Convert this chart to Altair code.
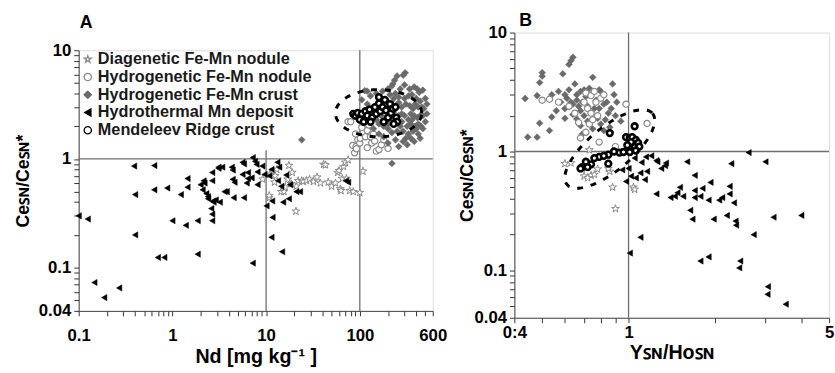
import altair as alt
import pandas as pd
import numpy as np

SERIES = ["Diagenetic Fe-Mn nodule", "Hydrogenetic Fe-Mn nodule",
          "Hydrogenetic Fe-Mn crust", "Hydrothermal Mn deposit",
          "Mendeleev Ridge crust"]
PANEL_TITLES = ["A", "B"]

# ---------------- Panel A: Nd [mg/kg] vs Ce_SN/Ce_SN* ----------------
A_DIAG = [(9.2,0.65),(10.8,0.44),(10.8,0.46),(12.3,0.61),(12.5,0.7),(14.5,0.5),(15.5,0.5),
          (16,0.55),(17,0.65),(17.5,0.87),(18.5,0.59),(20.8,0.33),(21,0.56),(22,0.63),(24,0.63),
          (25,0.62),(27,0.63),(29,0.65),(32,0.62),(35,0.68),(38,0.6),(41,0.89),(43,0.88),(46,0.61),
          (50,0.56),(55,0.6),(58,0.75),(60,0.78),(62,0.53),(63,0.51),(65,0.66),(67,0.85),(70,0.93),
          (72,0.66),(75,0.98),(78,0.51),(85,0.5),(100,0.49),(108,0.77),(19,0.75),(13,0.8),(11,0.72)]
A_HNOD = [(75,2.2),(80,2.2),(84,1.33),(88,1.14),(91,1.3),(92,1.24),(95,1.5),(100,1.4),(101,1.55),
          (110,1.77),(115,1.6),(120,1.83),(120,1.27),(130,1.6),(134,1.4),(144,1.46),(150,1.18),
          (160,1.22),(105,1.95),(140,1.7),(170,1.35),(125,2.05),(90,1.7),(180,1.5),(200,1.25)]
A_HCRU = [(305,6.2),(290,5.9),(250,5.8),(235,5.3),(220,4.7),(225,4.9),(410,4.4),(380,4.6),(430,4.1),
          (470,4.3),(500,3.6),(520,3.2),(480,2.9),(520,2.6),(500,2.2),(470,1.9),(440,1.55),(420,1.7),
          (380,1.45),(350,1.55),(320,1.35),(290,1.45),(260,1.3),(240,1.5),(200,1.4),(180,1.6),(160,1.7),
          (140,1.9),(120,4.2),(113,4.25),(130,3.8),(150,4.0),(175,4.2),(200,4.4),(270,4.4),(300,4.8),
          (340,4.4),(360,3.9),(330,3.8),(300,3.6),(260,3.7),(240,4.0),(190,3.5),(210,3.9),(400,3.6),
          (440,3.4),(460,3.0),(420,3.0),(390,3.2),(370,2.9),(340,3.1),(310,3.2),(280,3.0),(260,3.3),
          (230,3.6),(350,2.6),(380,2.5),(410,2.4),(440,2.5),(470,2.5),(330,2.3),(300,2.5),(280,2.6),
          (260,2.5),(240,2.2),(220,2.3),(200,2.1),(180,2.0),(160,2.1),(150,2.3),(320,2.0),(350,2.1),
          (390,2.0),(420,2.1),(450,2.0),(270,2.0),(250,1.8),(290,1.8),(330,1.7),(370,1.8),(400,1.9),
          (220,1.75),(200,1.9),(310,1.55),(280,2.2),(360,2.3),(230,2.7),(210,2.6),(170,2.5),(140,2.6),
          (120,3.2),(105,3.5),(24,1.5),(220,0.91)]
A_HYDT = [(0.1,0.3),(0.125,0.28),(0.147,0.073),(0.187,0.053),(0.27,0.065),(0.39,0.86),(0.4,0.47),
          (0.4,0.2),(0.64,0.87),(0.64,0.52),(0.7,0.124),(0.82,0.124),(0.88,0.54),(1.0,0.27),(1.23,0.47),
          (1.39,0.245),(1.45,0.66),(1.45,0.55),(1.86,0.27),(1.86,0.133),(2.1,0.52),(2.15,0.63),(2.2,0.6),
          (2.3,0.48),(2.4,0.43),(2.6,0.35),(2.66,0.75),(2.66,0.63),(2.66,0.31),(2.66,0.27),(2.7,0.41),
          (2.75,0.4),(3.1,0.84),(3.1,0.82),(3.2,0.4),(3.4,0.84),(3.6,0.5),(3.8,0.5),(4.3,0.84),(4.4,0.79),
          (4.4,0.65),(4.5,0.44),(4.6,0.61),(5.6,0.72),(5.6,0.93),(5.8,0.9),(5.8,0.44),(6.2,0.6),(6.4,0.66),
          (6.4,0.75),(7.0,0.67),(7.2,1.03),(7.2,0.11),(7.6,0.95),(7.9,0.89),(8.1,0.76),(8.1,0.58),
          (9.1,0.86),(9.6,0.72),(10.1,0.37),(10.8,0.7),(11.4,0.8),(11.4,0.19),(11.7,0.29),(11.6,0.41),
          (13.2,0.93),(13.4,0.63),(13.8,0.84),(14.5,0.56),(14.8,0.14),(15.2,0.4),(16.4,0.71),(17.5,0.43),
          (18,0.58),(21,0.5),(23,0.5),(71,0.63),(75,0.61),(2.4,0.45),(2.9,0.42),(2.0,0.58)]
A_MEND = [(85,2.6),(90,2.5),(95,2.65),(100,2.3),(105,2.6),(110,2.2),(115,2.75),(120,2.5),(127,2.85),
          (135,2.4),(145,3.0),(150,2.6),(160,3.25),(165,2.75),(175,3.0),(185,3.5),(190,2.8),(200,2.4),
          (210,3.2),(215,2.65),(225,2.9),(240,3.0),(245,2.4),(250,2.2),(160,3.7),(180,2.2),(230,2.1),
          (130,2.2)]

# ---------------- Panel B: Y_SN/Ho_SN vs Ce_SN/Ce_SN* ----------------
B_DIAG = [(0.63,0.8),(0.7,0.62),(0.74,0.63),(0.72,0.6),(0.86,0.68),(0.88,0.5),(1.04,0.5),(0.9,0.33),
          (0.73,1.03),(0.6,0.79),(0.76,0.64),(0.69,0.72),(0.85,0.72),(1.05,0.48),(0.78,0.71)]
B_HNOD = [(0.5,2.7),(0.57,2.6),(0.53,2.75),(0.71,3.1),(0.74,2.95),(0.76,3.2),(0.72,2.3),(0.74,2.1),
          (0.73,1.7),(0.71,1.45),(0.68,1.3),(0.98,2.5),(1.16,1.72),(0.9,1.1),(0.67,1.75),(0.78,2.0),
          (0.77,2.6),(0.8,2.8),(0.7,2.6),(0.75,1.85),(0.65,2.1),(0.79,1.2),(0.82,3.0),(0.62,2.4)]
B_HCRU = [(0.436,2.79),(0.445,1.32),(0.48,1.32),(0.48,2.95),(0.49,1.73),(0.5,4.6),(0.5,4.3),(0.49,3.8),
          (0.53,1.5),(0.54,3.0),(0.54,1.95),(0.59,4.5),(0.6,3.0),(0.63,5.8),(0.64,6.2),(0.62,5.4),
          (0.61,2.8),(0.63,2.6),(0.65,3.7),(0.66,3.0),(0.66,2.7),(0.67,2.4),(0.68,2.2),(0.7,3.3),
          (0.75,4.2),(0.69,2.6),(0.74,3.0),(0.76,2.3),(0.8,3.2),(0.82,2.5),(0.85,2.1),(0.88,3.7),
          (0.89,3.0),(0.84,2.6),(0.91,2.6),(0.9,2.0),(0.98,2.5),(0.64,2.05),(0.66,1.88),(0.68,1.65),
          (0.6,2.3),(0.58,2.6),(0.57,3.2),(0.62,3.3),(0.7,2.0),(0.72,1.8),(0.74,2.1),(0.78,1.9),
          (0.8,1.7),(0.82,1.5),(0.86,1.6),(0.77,2.7),(0.71,2.9),(0.64,2.5),(0.75,1.55),(0.69,1.4),
          (0.79,2.3),(0.83,1.85),(0.72,2.4),(0.68,3.2),(0.6,1.9),(0.56,2.2),(0.73,3.4),(0.79,3.3),
          (0.87,2.3),(0.94,1.8)]
B_HYDT = [(2.62,0.98),(3.0,0.82),(2.28,0.79),(1.6,0.82),(1.34,0.76),(1.25,0.84),(1.26,0.82),(1.2,0.92),
          (1.15,0.9),(1.16,0.68),(1.14,0.58),(1.25,0.44),(1.1,0.66),(1.06,0.6),(1.7,0.63),(1.51,0.5),
          (1.4,0.41),(1.45,0.42),(1.48,0.45),(1.55,0.42),(1.7,0.47),(1.7,0.41),(1.81,0.49),(1.78,0.42),
          (1.93,0.55),(1.9,0.39),(2.07,0.39),(2.12,0.41),(2.25,0.51),(2.25,0.44),(2.33,0.37),(1.64,0.32),
          (1.67,0.27),(1.98,0.27),(2.2,0.29),(2.36,0.26),(2.37,0.24),(2.73,0.2),(3.2,0.28),(4.0,0.29),
          (1.1,0.19),(1.01,0.14),(1.78,0.12),(1.9,0.13),(2.45,0.12),(2.43,0.105),(3.06,0.073),
          (3.05,0.063),(3.53,0.052),(1.11,0.81),(1.05,0.88),(1.0,0.72),(0.95,0.7),(1.02,0.62),
          (0.98,0.56),(1.35,0.8),(1.3,0.72)]
B_MEND = [(1.05,1.63),(0.98,1.32),(1.01,1.3),(1.03,1.32),(1.06,1.25),(1.02,1.2),(0.99,1.13),(1.05,1.09),
          (1.08,1.18),(1.09,1.1),(1.06,1.02),(0.93,0.98),(0.89,1.0),(0.85,0.94),(0.79,0.9),(0.85,0.79),
          (0.74,0.78),(0.71,0.82),(0.69,0.74),(0.68,0.72),(0.72,0.74),(0.86,1.43),(0.96,0.99),
          (0.76,0.88),(0.82,0.92),(1.01,0.99)]

# dashed ellipses (log10 centre, two semi-axis vectors in log10 units)
ELL_A = dict(c=(2.2, 0.421), u=(0.46, 0.0), v=(0.0, 0.217))
ELL_B = dict(c=(-0.0655, 0.021), u=(0.149, 0.299), v=(0.048, -0.140))

# reference lines
A_VLINES_FULL = [100]
A_VLINE_PART = [(10, 0.04, 1.2)]
A_HLINES = [1]
B_VLINES = [1]
B_HLINES = [1]

# axis ticks / labels
A_X_TICKS = [0.1,0.2,0.3,0.4,0.5,0.6,0.7,0.8,0.9,1,2,3,4,5,6,7,8,9,10,20,30,40,50,60,70,80,90,100,200,300,400,500,600]
A_X_LABELS = [(0.1,"0.1"),(1,"1"),(10,"10"),(100,"100"),(600,"600")]
Y_TICKS = [0.04,0.05,0.06,0.07,0.08,0.09,0.1,0.2,0.3,0.4,0.5,0.6,0.7,0.8,0.9,1,2,3,4,5,6,7,8,9,10]
Y_LABELS = [(0.04,"0.04"),(0.1,"0.1"),(1,"1"),(10,"10")]
B_X_TICKS = [0.4,0.5,0.6,0.7,0.8,0.9,1,2,3,4,5]
B_X_LABELS = [(0.4,"0:4"),(1,"1"),(5,"5")]
Y_TITLE = "Ceꜱɴ/Ceꜱɴ*"
A_X_TITLE = "Nd [mg kg⁻¹ ]"
B_X_TITLE = "Yꜱɴ/Hoꜱɴ"

STAR = ("M0,-1L0.2245,-0.309L0.951,-0.309L0.363,0.118L0.588,0.809L0,0.382"
        "L-0.588,0.809L-0.363,0.118L-0.951,-0.309L-0.2245,-0.309Z")
SHAPES = [STAR, "circle", "diamond", "triangle-left", "circle"]
FILLS = ["white", "white", "#6a6a6a", "black", "white"]
STROKES = ["#8a8a8a", "#8a8a8a", "#6a6a6a", "black", "black"]
SIZES = [70, 40, 48, 40, 34]
SWIDTHS = [1.0, 1.2, 0.5, 0.5, 2.6]

FONT = "Liberation Sans"
LEGEND_CH = dict(shape="independent", fill="independent", stroke="independent")


def frame(groups):
    rows = []
    for order, (k, pts) in enumerate(groups):
        for (x, y) in pts:
            rows.append({"x": x, "y": y, "series": SERIES[k], "o": order,
                         "sz": SIZES[k], "sw": SWIDTHS[k]})
    return pd.DataFrame(rows)


def ellipse(e):
    t = np.linspace(0, 2 * np.pi, 160)
    lx = e["c"][0] + np.cos(t) * e["u"][0] + np.sin(t) * e["v"][0]
    ly = e["c"][1] + np.cos(t) * e["u"][1] + np.sin(t) * e["v"][1]
    return pd.DataFrame({"x": 10 ** lx, "y": 10 ** ly, "i": np.arange(len(t))})


def lab_expr(pairs):
    s = ""
    for v, txt in pairs:
        s += f"abs(datum.value - {v}) < {v * 1e-6} ? '{txt}' : "
    return s + "''"


def axis(vals, labels, title, **kw):
    return alt.Axis(values=vals, labelExpr=lab_expr(labels), title=title, grid=False,
                    tickSize=5, tickColor="#333", domainColor="#444", labelFont=FONT,
                    labelFontSize=17, labelFontWeight="bold", labelColor="black",
                    titleFont=FONT, titleFontWeight="bold",
                    titleColor="black", labelOverlap=False, labelFlush=False, **kw)


def panel(df, ell, xdom, ydom, xvals, xlabels, xtitle, vfull, vpart, hlines,
          w, h, legend, xlp, xtp, ytp, ptitle=None):
    xs = alt.Scale(type="log", domain=xdom, nice=False)
    ys = alt.Scale(type="log", domain=ydom, nice=False)
    X = lambda: alt.X("x:Q", scale=xs, axis=axis(xvals, xlabels, xtitle, labelPadding=xlp,
                                                  titlePadding=xtp, titleFontSize=20))
    Y = lambda: alt.Y("y:Q", scale=ys, axis=axis(Y_TICKS, Y_LABELS, Y_TITLE, labelPadding=3,
                                                  titlePadding=ytp, titleFontSize=18))
    layers = []
    rc = "#6e6e6e"
    layers.append(alt.Chart(pd.DataFrame({"x": vfull})).mark_rule(color=rc, strokeWidth=1.3).encode(x=X()))
    layers.append(alt.Chart(pd.DataFrame({"y": hlines})).mark_rule(color=rc, strokeWidth=1.3).encode(y=Y()))
    if vpart:
        dfp = pd.DataFrame([{"x": a, "y": b, "y2": c} for a, b, c in vpart])
        layers.append(alt.Chart(dfp).mark_rule(color=rc, strokeWidth=1.3).encode(x=X(), y=Y(), y2="y2:Q"))
    if legend:
        leg = alt.Legend(title=None, orient="top-left", offset=1, padding=0, labelFont=FONT,
                         labelFontSize=16.5, labelFontWeight="bold", labelColor="#1a1a1a",
                         symbolSize=55, rowPadding=1, labelOffset=2, symbolStrokeWidth=1.3,
                         labelLimit=400)
    else:
        leg = None
    pts = alt.Chart(df).mark_point(opacity=1).encode(
        x=X(), y=Y(),
        shape=alt.Shape("series:N", scale=alt.Scale(domain=SERIES, range=SHAPES), legend=leg),
        fill=alt.Fill("series:N", scale=alt.Scale(domain=SERIES, range=FILLS), legend=leg),
        stroke=alt.Stroke("series:N", scale=alt.Scale(domain=SERIES, range=STROKES), legend=leg),
        size=alt.Size("sz:Q", scale=None),
        strokeWidth=alt.StrokeWidth("sw:Q", scale=None),
        order=alt.Order("o:Q"),
    )
    el = alt.Chart(ellipse(ell)).mark_line(color="black", strokeWidth=3, strokeDash=[6, 8]).encode(
        x=X(), y=Y(), order="i:Q")
    layers += [pts, el]
    if ptitle is not None:
        layers.append(alt.Chart(pd.DataFrame({"t": [ptitle]})).mark_text(
            font=FONT, fontSize=18, fontWeight="bold", color="black", align="left",
            baseline="alphabetic").encode(text="t:N", x=alt.value(5), y=alt.value(-7)))
    return alt.layer(*layers).properties(width=w, height=h)


dfA = frame([(0, A_DIAG), (3, A_HYDT), (1, A_HNOD), (2, A_HCRU), (4, A_MEND)])
dfB = frame([(2, B_HCRU), (1, B_HNOD), (0, B_DIAG), (3, B_HYDT), (4, B_MEND)])

chartA = panel(dfA, ELL_A, [0.1, 600], [0.04, 10], A_X_TICKS, A_X_LABELS, A_X_TITLE,
               A_VLINES_FULL, A_VLINE_PART, A_HLINES, 360, 265, True, 12, 3, 6)
chartB = panel(dfB, ELL_B, [0.4, 5], [0.04, 10], B_X_TICKS, B_X_LABELS, B_X_TITLE,
               B_VLINES, [], B_HLINES, 320, 290, False, 2, 2, -3, ptitle=PANEL_TITLES[1])

spacerA = alt.Chart(pd.DataFrame({"t": [PANEL_TITLES[0]]})).mark_text(
    font=FONT, fontSize=18, fontWeight="bold", color="black", align="left",
    baseline="alphabetic").encode(text="t:N", x=alt.value(1), y=alt.value(-5)).properties(
    width=360, height=8, view=alt.ViewBackground(stroke="white", strokeWidth=0))

colA = alt.vconcat(spacerA, chartA, spacing=0).resolve_scale(**LEGEND_CH).resolve_legend(**LEGEND_CH)

chart = alt.hconcat(colA, chartB, spacing=11).resolve_scale(**LEGEND_CH).resolve_legend(**LEGEND_CH
).properties(padding={"left": 14, "top": 8, "right": 0, "bottom": 0}
).configure_view(stroke="#555", strokeWidth=1).configure(background="white")

chart.save("out.html", embed_options={"renderer": "svg", "actions": False})
